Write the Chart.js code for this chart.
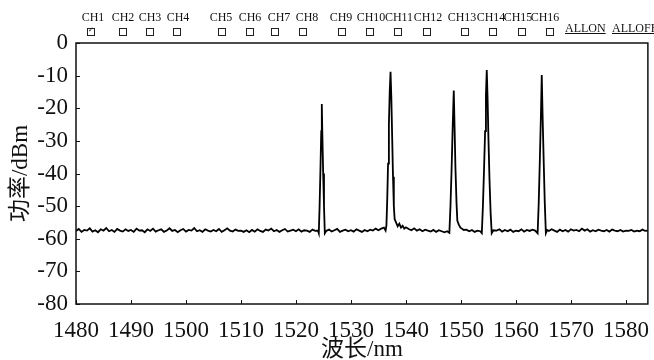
<!DOCTYPE html>
<html>
<head>
<meta charset="utf-8">
<script src="https://cdn.jsdelivr.net/npm/chart.js@4.4.1/dist/chart.umd.min.js"></script>
<style>
  body { margin: 0; background: #fff; }
  #wrap { position: relative; width: 654px; height: 360px; font-family: "Liberation Serif", "Noto Sans CJK SC", serif; color: #111; }
  #grafico { position: absolute; left: 0; top: 0; }
  .ch { position: absolute; top: 11px; font-size: 12px; line-height: 13px; transform: translateX(-50%); white-space: nowrap; }
  .cb { position: absolute; top: 28px; width: 6px; height: 6px; border: 1px solid #222; transform: translateX(-50%); }
  .cb.on::after { content: "✓"; position: absolute; left: 0px; top: -3px; font: bold 7px "DejaVu Sans"; color: #222; }
  .all { position: absolute; top: 22px; font-size: 12px; line-height: 13px; text-decoration: underline; white-space: nowrap; }
</style>
</head>
<body>
<div id="wrap">
  <canvas id="grafico" width="654" height="360"></canvas>
  <span class="ch" style="left:93px">CH1</span>
  <span class="ch" style="left:123px">CH2</span>
  <span class="ch" style="left:150px">CH3</span>
  <span class="ch" style="left:178px">CH4</span>
  <span class="ch" style="left:221px">CH5</span>
  <span class="ch" style="left:250px">CH6</span>
  <span class="ch" style="left:279px">CH7</span>
  <span class="ch" style="left:307px">CH8</span>
  <span class="ch" style="left:341px">CH9</span>
  <span class="ch" style="left:371px">CH10</span>
  <span class="ch" style="left:399px">CH11</span>
  <span class="ch" style="left:428px">CH12</span>
  <span class="ch" style="left:462px">CH13</span>
  <span class="ch" style="left:491px">CH14</span>
  <span class="ch" style="left:518px">CH15</span>
  <span class="ch" style="left:545px">CH16</span>
  <span class="cb on" style="left:91px"></span>
  <span class="cb" style="left:123px"></span>
  <span class="cb" style="left:150px"></span>
  <span class="cb" style="left:177px"></span>
  <span class="cb" style="left:222px"></span>
  <span class="cb" style="left:250px"></span>
  <span class="cb" style="left:275px"></span>
  <span class="cb" style="left:303px"></span>
  <span class="cb" style="left:342px"></span>
  <span class="cb" style="left:370px"></span>
  <span class="cb" style="left:398px"></span>
  <span class="cb" style="left:427px"></span>
  <span class="cb" style="left:465px"></span>
  <span class="cb" style="left:493px"></span>
  <span class="cb" style="left:522px"></span>
  <span class="cb" style="left:550px"></span>
  <span class="all" style="left:565px">ALLON</span>
  <span class="all" style="left:612px">ALLOFF</span>
</div>
<script>
var wavelengthNm = [
    1480.0,1480.5,1481.0,1481.5,1482.0,1482.5,1483.0,1483.5,1484.0,1484.5,
    1485.0,1485.5,1486.0,1486.5,1487.0,1487.5,1488.0,1488.5,1489.0,1489.5,
    1490.0,1490.5,1491.0,1491.5,1492.0,1492.5,1493.0,1493.5,1494.0,1494.5,
    1495.0,1495.5,1496.0,1496.5,1497.0,1497.5,1498.0,1498.5,1499.0,1499.5,
    1500.0,1500.5,1501.0,1501.5,1502.0,1502.5,1503.0,1503.5,1504.0,1504.5,
    1505.0,1505.5,1506.0,1506.5,1507.0,1507.5,1508.0,1508.5,1509.0,1509.5,
    1510.0,1510.5,1511.0,1511.5,1512.0,1512.5,1513.0,1513.5,1514.0,1514.5,
    1515.0,1515.5,1516.0,1516.5,1517.0,1517.5,1518.0,1518.5,1519.0,1519.5,
    1520.0,1520.5,1521.0,1521.5,1522.0,1522.5,1523.0,1523.5,1524.0,
    1524.15,1524.3,1524.45,1524.6,1524.7,1524.8,1524.95,1525.1,1525.25,
    1525.5,1526.0,1526.5,1527.0,1527.5,1528.0,1528.5,1529.0,1529.5,1530.0,
    1530.5,1531.0,1531.5,1532.0,1532.5,1533.0,1533.5,1534.0,1534.5,1535.0,
    1535.5,1536.0,
    1536.3,1536.45,1536.6,1536.75,1536.9,1537.05,1537.2,1537.35,1537.5,1537.65,
    1537.8,1537.95,1538.2,1538.5,1538.8,1539.1,1539.4,1539.7,1540.0,
    1540.5,1541.0,1541.5,1542.0,1542.5,1543.0,1543.5,1544.0,1544.5,1545.0,
    1545.5,1546.0,1546.5,1547.0,1547.5,
    1547.9,1548.1,1548.3,1548.5,1548.7,1548.85,1549.0,1549.2,1549.35,1549.6,
    1549.9,1550.2,1550.5,
    1551.0,1551.5,1552.0,1552.5,1553.0,1553.5,
    1553.8,1554.0,1554.2,1554.4,1554.55,1554.7,1554.85,1555.0,1555.2,1555.4,
    1555.6,1555.9,
    1556.5,1557.0,1557.5,1558.0,1558.5,1559.0,1559.5,1560.0,1560.5,1561.0,
    1561.5,1562.0,1562.5,1563.0,1563.5,
    1563.95,1564.15,1564.35,1564.55,1564.7,1564.85,1565.05,1565.25,1565.45,1565.7,
    1566.0,1566.5,1567.0,1567.5,1568.0,1568.5,1569.0,1569.5,1570.0,1570.5,
    1571.0,1571.5,1572.0,1572.5,1573.0,1573.5,1574.0,1574.5,1575.0,1575.5,
    1576.0,1576.5,1577.0,1577.5,1578.0,1578.5,1579.0,1579.5,1580.0,1580.5,
    1581.0,1581.5,1582.0,1582.5,1583.0,1583.5,1584.0,1584.5
];
var powerDbm = [
    -57.6,-57.0,-57.9,-57.3,-57.5,-56.8,-57.8,-57.4,-58.0,-57.1,
    -57.5,-56.7,-57.7,-57.3,-57.9,-57.0,-57.5,-57.8,-57.1,-57.6,
    -57.3,-57.9,-56.9,-57.5,-57.4,-58.0,-57.1,-57.6,-56.9,-57.8,
    -57.4,-57.1,-57.9,-57.5,-56.8,-57.6,-57.3,-58.0,-57.4,-57.0,
    -57.8,-57.3,-57.5,-56.7,-57.7,-57.4,-57.9,-57.1,-57.5,-57.8,
    -57.3,-57.7,-57.0,-57.9,-57.4,-56.8,-57.5,-57.8,-57.2,-57.6,
    -57.5,-57.9,-57.4,-58.0,-57.3,-57.8,-57.1,-57.6,-57.9,-57.2,
    -57.5,-56.9,-57.7,-57.3,-57.9,-57.4,-57.0,-57.8,-57.5,-57.2,
    -57.7,-57.1,-57.8,-57.4,-57.5,-57.9,-57.2,-57.6,-57.5,
    -58.3,-50.0,-39.0,-27.0,-18.7,-28.0,-40.0,-50.0,-58.3,
    -57.6,-57.2,-57.8,-57.4,-57.0,-57.9,-57.5,-57.2,-57.7,-57.4,
    -57.8,-57.1,-57.5,-57.9,-57.3,-57.7,-57.2,-57.5,-56.9,-57.4,
    -56.9,-56.6,
    -57.5,-56.0,-48.0,-37.0,-25.0,-15.0,-8.8,-17.0,-29.0,-41.0,
    -50.0,-54.0,-55.0,-56.2,-55.4,-56.6,-56.0,-56.9,-56.5,
    -57.0,-57.4,-56.8,-57.5,-57.1,-57.7,-57.2,-57.5,-57.8,-57.3,
    -57.9,-57.4,-57.7,-58.0,-57.7,
    -58.2,-50.0,-39.0,-26.0,-14.6,-26.0,-38.0,-49.0,-54.5,-55.6,
    -56.6,-56.9,-57.3,
    -57.2,-57.7,-57.3,-57.9,-57.5,-57.7,
    -58.3,-50.0,-39.0,-27.0,-16.0,-8.3,-17.0,-29.0,-42.0,-52.0,
    -58.3,-57.4,
    -57.5,-57.1,-57.8,-57.3,-57.7,-57.2,-57.9,-57.5,-57.7,-57.1,
    -57.8,-57.3,-57.6,-57.2,-57.5,
    -58.3,-49.0,-36.0,-22.0,-9.8,-22.0,-36.0,-49.0,-58.3,-57.3,
    -57.6,-57.1,-57.5,-57.9,-57.2,-57.7,-57.3,-57.8,-57.1,-57.5,
    -57.3,-57.7,-56.9,-57.5,-57.1,-57.8,-57.4,-57.7,-57.2,-57.5,
    -57.7,-57.3,-57.8,-57.2,-57.5,-57.7,-57.3,-57.8,-57.5,-57.6,
    -57.3,-57.8,-57.5,-57.7,-57.2,-57.6,-57.5,-57.7
];
var xTicks = [1480, 1490, 1500, 1510, 1520, 1530, 1540, 1550, 1560, 1570, 1580];
var yTicks = [0, -10, -20, -30, -40, -50, -60, -70, -80];

var serif = "'Liberation Serif', 'Noto Sans CJK SC', serif";

// moldura e marcas de escala para dentro
var moldura = {
    id: 'moldura',
    afterDraw: function(chart){
        var ctx = chart.ctx, a = chart.chartArea;
        var sx = chart.scales.x, sy = chart.scales.y;
        ctx.save();
        ctx.strokeStyle = '#111';
        ctx.lineWidth = 1;
        sx.ticks.forEach(function(t){
            var px = Math.round(sx.getPixelForValue(t.value)) + 0.5;
            ctx.beginPath(); ctx.moveTo(px, a.bottom); ctx.lineTo(px, a.bottom - 4); ctx.stroke();
        });
        sy.ticks.forEach(function(t){
            var py = Math.round(sy.getPixelForValue(t.value)) + 0.5;
            ctx.beginPath(); ctx.moveTo(a.left, py); ctx.lineTo(a.left + 4, py); ctx.stroke();
        });
        ctx.lineWidth = 1.5;
        ctx.strokeRect(a.left, a.top, a.right - a.left, a.bottom - a.top);
        ctx.restore();
    }
};

var pontos = wavelengthNm.map(function(w, i){ return {x: w, y: powerDbm[i]}; });

var ctx = document.getElementById('grafico').getContext('2d');
window.espectro = new Chart(ctx, {
    type: 'line',
    data: {
        datasets: [{
            label: 'CH1',
            data: pontos,
            borderColor: '#000',
            borderWidth: 1.8,
            pointRadius: 0,
            tension: 0,
            fill: false
        }]
    },
    options: {
        responsive: false,
        animation: false,
        layout: { padding: { top: 43, right: 3, left: 0, bottom: 0 } },
        plugins: { legend: { display: false }, tooltip: { enabled: false } },
        scales: {
            x: {
                type: 'linear',
                min: 1480,
                max: 1584,
                afterBuildTicks: function(s){ s.ticks = xTicks.map(function(v){ return {value: v}; }); },
                afterFit: function(s){ s.height = 56; },
                grid: { display: false },
                border: { display: false },
                ticks: { color: '#111', padding: 5, maxRotation: 0, autoSkip: false,
                         callback: function(v){ return String(v); },
                         font: { family: serif, size: 23 } },
                title: { display: true, text: '波长/nm', color: '#111', padding: { top: 0, bottom: -4 }, font: { family: serif, size: 23 } }
            },
            y: {
                min: -80,
                max: 0,
                afterBuildTicks: function(s){ s.ticks = yTicks.map(function(v){ return {value: v}; }); },
                afterFit: function(s){ s.width = 76; },
                grid: { display: false },
                border: { display: false },
                ticks: { color: '#111', padding: 0, font: { family: serif, size: 23 } },
                title: { display: true, text: '功率/dBm', color: '#111', padding: { top: 7, bottom: 0 }, font: { family: serif, size: 23 } }
            }
        }
    },
    plugins: [moldura]
});
</script>
</body>
</html>
